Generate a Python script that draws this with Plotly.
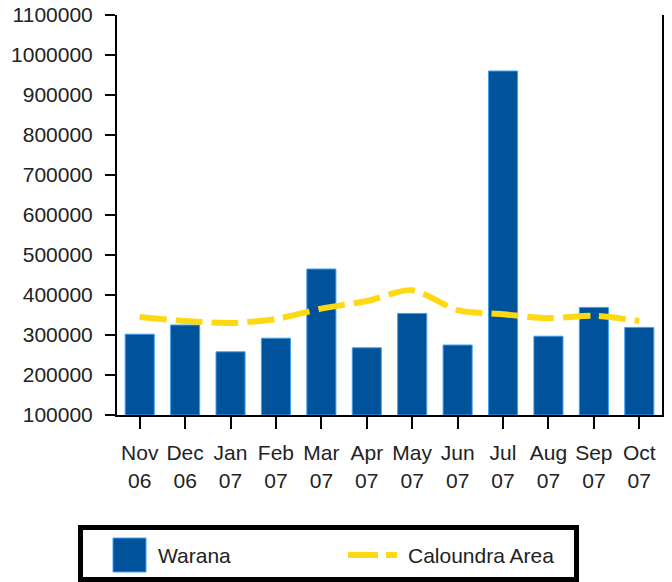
import plotly.graph_objects as go

months = ["Nov<br>06", "Dec<br>06", "Jan<br>07", "Feb<br>07", "Mar<br>07", "Apr<br>07",
          "May<br>07", "Jun<br>07", "Jul<br>07", "Aug<br>07", "Sep<br>07", "Oct<br>07"]
warana = [302000, 325000, 258000, 292000, 465000, 268000,
          354000, 275000, 960000, 297000, 369000, 319000]
caloundra = [345000, 335000, 330000, 340000, 366000, 385000,
             412000, 362000, 352000, 342000, 348000, 335000]
y_ticks = [100000, 200000, 300000, 400000, 500000, 600000,
           700000, 800000, 900000, 1000000, 1100000]
series_names = ["Warana", "Caloundra Area"]

FONT = "Liberation Sans, Arial, sans-serif"
BLUE = "#00529B"
YELLOW = "#FFD814"
W, H = 672, 582
ML, MR, MT, MB = 117, 10, 15, 167
PW, PH = W - ML - MR, H - MT - MB


def px(x):
    return (x - ML) / PW


def py(y):
    return (H - MB - y) / PH


fig = go.Figure()
fig.add_trace(go.Bar(
    x=list(range(len(months))), y=[v - 100000 for v in warana], base=100000,
    name=series_names[0], width=0.64, showlegend=False,
    marker=dict(color=BLUE, line=dict(color="#3FA0F0", width=1)),
))
fig.add_trace(go.Scatter(
    x=list(range(len(months))), y=caloundra, name=series_names[1], showlegend=False,
    mode="lines", line=dict(color=YELLOW, width=6, dash="27px,9px", shape="spline", smoothing=0.8),
))

# legend box drawn as layout decoration
shapes = [
    dict(type="rect", xref="paper", yref="paper", x0=px(80.5), x1=px(576.5), y0=py(527.5), y1=py(579.5),
         line=dict(color="black", width=5), fillcolor="white"),
    dict(type="rect", xref="paper", yref="paper", x0=px(113), x1=px(146), y0=py(538), y1=py(572),
         line=dict(color="#3FA0F0", width=1), fillcolor=BLUE),
    dict(type="line", xref="paper", yref="paper", x0=px(348), x1=px(378), y0=py(555), y1=py(555),
         line=dict(color=YELLOW, width=6)),
    dict(type="line", xref="paper", yref="paper", x0=px(386), x1=px(397), y0=py(555), y1=py(555),
         line=dict(color=YELLOW, width=6)),
]
annotations = [
    dict(text=series_names[0], xref="paper", yref="paper", x=px(156), y=py(555), xanchor="left",
         yanchor="middle", showarrow=False, font=dict(size=21, color="#222")),
    dict(text=series_names[1], xref="paper", yref="paper", x=px(406), y=py(555), xanchor="left",
         yanchor="middle", showarrow=False, font=dict(size=21, color="#222")),
]

fig.update_layout(
    width=W, height=H,
    margin=dict(l=ML, r=MR, t=MT, b=MB, autoexpand=False),
    paper_bgcolor="white", plot_bgcolor="white",
    font=dict(family=FONT, size=21, color="#222"),
    showlegend=False,
    shapes=shapes, annotations=annotations,
)
fig.update_xaxes(
    range=[-0.5, 11.5], tickmode="array", tickvals=list(range(len(months))), ticktext=months,
    showline=True, linecolor="black", linewidth=2, ticks="outside", ticklen=12,
    tickwidth=2, tickcolor="black", showgrid=False, zeroline=False,
    tickfont=dict(size=21), automargin=False, ticklabelstandoff=6,
)
fig.update_yaxes(
    range=[100000, 1100000], tickmode="array", tickvals=y_ticks,
    ticktext=[str(v) for v in y_ticks],
    showline=True, linecolor="black", linewidth=2, mirror=True,
    ticks="outside", ticklen=10, tickwidth=2, tickcolor="black",
    showgrid=False, zeroline=False, tickfont=dict(size=21),
    ticklabelstandoff=8, automargin=False,
)

fig.write_html("out.html")
